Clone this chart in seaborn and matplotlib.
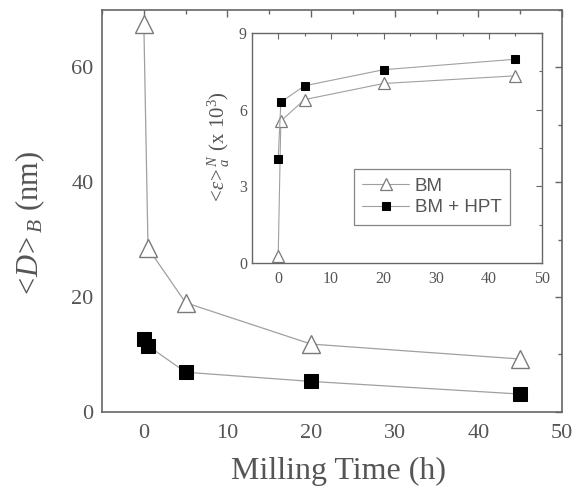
import matplotlib
matplotlib.use("Agg")
import matplotlib.pyplot as plt
from matplotlib.ticker import MultipleLocator
import seaborn as sns
import pandas as pd

time_h = [0, 0.5, 5, 20, 45]
size_bm = [67.5, 28.5, 19.0, 11.8, 9.2]
size_hpt = [12.6, 11.5, 6.9, 5.3, 3.1]
strain_bm = [0.26, 5.56, 6.4, 7.03, 7.33]
strain_hpt = [4.08, 6.3, 6.94, 7.57, 7.98]
series_names = ["BM", "BM + HPT"]

sns.set_theme(style="white")
plt.rcParams["font.family"] = ["Liberation Serif", "DejaVu Serif"]
plt.rcParams["mathtext.fontset"] = "custom"
plt.rcParams["mathtext.rm"] = "Liberation Serif"
plt.rcParams["mathtext.it"] = "Liberation Serif:italic"

text_c = "#555555"
spine_c = "#666666"
line_c = "#a0a0a0"
tri_c = "#7a7a7a"

fig = plt.figure(figsize=(5.83, 4.88), dpi=100)
ax = fig.add_axes([0.175, 0.156, 0.789, 0.824])

df_main = pd.DataFrame({"t": time_h * 2, "v": size_bm + size_hpt,
                        "s": [series_names[0]] * 5 + [series_names[1]] * 5})

sns.lineplot(data=df_main[df_main.s == series_names[0]], x="t", y="v", ax=ax,
             color=line_c, lw=0.9, marker="^", markersize=13,
             markerfacecolor="white", markeredgecolor=tri_c, markeredgewidth=1.0)
sns.lineplot(data=df_main[df_main.s == series_names[1]], x="t", y="v", ax=ax,
             color=line_c, lw=0.9, marker="s", markersize=10,
             markerfacecolor="black", markeredgecolor="black")

ax.set_xlim(-5, 50)
ax.set_ylim(0, 70)
ax.xaxis.set_major_locator(MultipleLocator(10))
ax.xaxis.set_minor_locator(MultipleLocator(5))
ax.yaxis.set_major_locator(MultipleLocator(20))
ax.yaxis.set_minor_locator(MultipleLocator(10))
ax.tick_params(which="both", direction="in", top=True, right=True, colors=spine_c,
               labelcolor=text_c, labelsize=16, width=1)
ax.tick_params(which="major", length=5)
ax.tick_params(which="minor", length=3)
ax.tick_params(axis="x", which="major", pad=9)
ax.tick_params(axis="y", which="major", pad=6)
for sp in ax.spines.values():
    sp.set_color(spine_c)
    sp.set_linewidth(1.2)
ax.set_xlabel("Milling Time (h)", fontsize=23, color=text_c)
ax.xaxis.set_label_coords(0.515, -0.112)
ax.set_ylabel(r"$<\!D\!>_B$ (nm)", fontsize=22, color=text_c)
ax.yaxis.set_label_coords(-0.12, 0.465)

# inset
ins = fig.add_axes([0.432, 0.461, 0.497, 0.471])
sns.lineplot(x=time_h, y=strain_bm, ax=ins, color=line_c, lw=0.8, marker="^",
             markersize=8, markerfacecolor="white", markeredgecolor=tri_c,
             markeredgewidth=0.9, label=series_names[0])
sns.lineplot(x=time_h, y=strain_hpt, ax=ins, color=line_c, lw=0.8, marker="s",
             markersize=6, markerfacecolor="black", markeredgecolor="black",
             label=series_names[1])
ins.set_xlim(-5, 50)
ins.set_ylim(0, 9)
ins.xaxis.set_major_locator(MultipleLocator(10))
ins.xaxis.set_minor_locator(MultipleLocator(5))
ins.yaxis.set_major_locator(MultipleLocator(3))
ins.yaxis.set_minor_locator(MultipleLocator(1.5))
ins.tick_params(which="both", direction="in", top=True, right=True, colors=spine_c,
                labelcolor=text_c, labelsize=11.5, width=0.8)
ins.tick_params(which="major", length=4)
ins.tick_params(which="minor", length=2)
ins.tick_params(axis="x", which="major", pad=6)
for sp in ins.spines.values():
    sp.set_color(spine_c)
    sp.set_linewidth(1.0)
ins.set_xlabel("")
ins.set_ylabel(r"$<\!\varepsilon\!>_a^{N}$ (x 10$^3$)", fontsize=15, color=text_c, labelpad=5)
leg = ins.legend(loc="upper left", bbox_to_anchor=(0.352, 0.409), borderaxespad=0,
                 frameon=True, fancybox=False, edgecolor=spine_c, borderpad=0.45,
                 handlelength=2.5, handletextpad=0.3,
                 prop={"family": "Liberation Sans", "size": 13.5}, labelspacing=0.25)
leg.get_frame().set_linewidth(0.9)
for t in leg.get_texts():
    t.set_color(text_c)

fig.savefig("out.png", dpi=100)
